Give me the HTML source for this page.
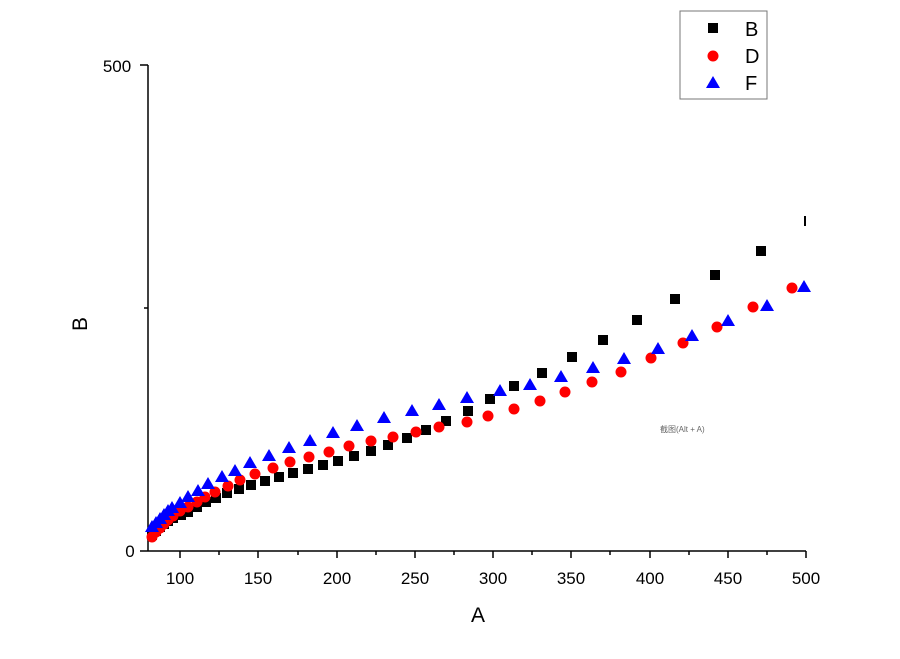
<!DOCTYPE html><html><head><meta charset="utf-8"><style>body{margin:0;background:#fff}</style></head><body>
<svg width="900" height="654" xmlns="http://www.w3.org/2000/svg" font-family="Liberation Sans, sans-serif">
<defs>
<rect id="s" x="-5" y="-5" width="10" height="10" fill="#000"/>
<circle id="c" r="5.5" fill="#f00"/>
<polygon id="t" points="0,-7 7,5 -7,5" fill="#00f"/>
</defs>
<g stroke="#000" stroke-width="1.5" fill="none">
<line x1="148" y1="551" x2="806" y2="551"/>
<line x1="148" y1="65" x2="148" y2="551"/>
<line x1="140" y1="65" x2="148" y2="65"/><line x1="144" y1="308" x2="148" y2="308"/><line x1="140" y1="551" x2="148" y2="551"/>
<line x1="180" y1="551" x2="180" y2="558"/><line x1="258" y1="551" x2="258" y2="558"/><line x1="337" y1="551" x2="337" y2="558"/><line x1="415" y1="551" x2="415" y2="558"/><line x1="493" y1="551" x2="493" y2="558"/><line x1="571" y1="551" x2="571" y2="558"/><line x1="650" y1="551" x2="650" y2="558"/><line x1="728" y1="551" x2="728" y2="558"/><line x1="806" y1="551" x2="806" y2="558"/>
<line x1="219" y1="551" x2="219" y2="555"/><line x1="298" y1="551" x2="298" y2="555"/><line x1="376" y1="551" x2="376" y2="555"/><line x1="454" y1="551" x2="454" y2="555"/><line x1="532" y1="551" x2="532" y2="555"/><line x1="610" y1="551" x2="610" y2="555"/><line x1="689" y1="551" x2="689" y2="555"/><line x1="767" y1="551" x2="767" y2="555"/>
</g>
<g font-size="17" text-anchor="middle" fill="#000">
<text x="180" y="584">100</text><text x="258" y="584">150</text><text x="337" y="584">200</text><text x="415" y="584">250</text><text x="493" y="584">300</text><text x="571" y="584">350</text><text x="650" y="584">400</text><text x="728" y="584">450</text><text x="806" y="584">500</text>
<text x="117" y="72">500</text><text x="130" y="557">0</text>
<text x="478" y="622" font-size="21">A</text>
<text transform="translate(87,324) rotate(-90)" font-size="21">B</text>
</g>
<text x="660" y="432" font-size="8" fill="#666">截图(Alt + A)</text>
<g>
<use href="#s" x="152" y="535"/><use href="#s" x="156" y="531"/><use href="#s" x="160" y="527"/><use href="#s" x="164" y="524"/><use href="#s" x="168" y="521"/><use href="#s" x="173" y="518"/><use href="#s" x="181" y="515"/><use href="#s" x="188" y="512"/><use href="#s" x="197" y="507"/><use href="#s" x="206" y="502"/><use href="#s" x="216" y="498"/><use href="#s" x="227" y="493"/><use href="#s" x="239" y="489"/><use href="#s" x="251" y="485"/><use href="#s" x="265" y="481"/><use href="#s" x="279" y="477"/><use href="#s" x="293" y="473"/><use href="#s" x="308" y="469"/><use href="#s" x="323" y="465"/><use href="#s" x="338" y="461"/><use href="#s" x="354" y="456"/><use href="#s" x="371" y="451"/><use href="#s" x="388" y="445"/><use href="#s" x="407" y="438"/><use href="#s" x="426" y="430"/><use href="#s" x="446" y="421"/><use href="#s" x="468" y="411"/><use href="#s" x="490" y="399"/><use href="#s" x="514" y="386"/><use href="#s" x="542" y="373"/><use href="#s" x="572" y="357"/><use href="#s" x="603" y="340"/><use href="#s" x="637" y="320"/><use href="#s" x="675" y="299"/><use href="#s" x="715" y="275"/><use href="#s" x="761" y="251"/>
<rect x="804" y="216" width="2" height="10" fill="#000"/>
<use href="#c" x="152" y="537"/><use href="#c" x="156" y="532"/><use href="#c" x="160" y="528"/><use href="#c" x="164" y="524"/><use href="#c" x="168" y="520"/><use href="#c" x="173" y="516"/><use href="#c" x="180" y="511"/><use href="#c" x="188" y="507"/><use href="#c" x="197" y="502"/><use href="#c" x="205" y="497"/><use href="#c" x="215" y="492"/><use href="#c" x="228" y="486"/><use href="#c" x="240" y="480"/><use href="#c" x="255" y="474"/><use href="#c" x="273" y="468"/><use href="#c" x="290" y="462"/><use href="#c" x="309" y="457"/><use href="#c" x="329" y="452"/><use href="#c" x="349" y="446"/><use href="#c" x="371" y="441"/><use href="#c" x="393" y="437"/><use href="#c" x="416" y="432"/><use href="#c" x="439" y="427"/><use href="#c" x="467" y="422"/><use href="#c" x="488" y="416"/><use href="#c" x="514" y="409"/><use href="#c" x="540" y="401"/><use href="#c" x="565" y="392"/><use href="#c" x="592" y="382"/><use href="#c" x="621" y="372"/><use href="#c" x="651" y="358"/><use href="#c" x="683" y="343"/><use href="#c" x="717" y="327"/><use href="#c" x="753" y="307"/><use href="#c" x="792" y="288"/>
<use href="#t" x="152" y="527"/><use href="#t" x="156" y="523"/><use href="#t" x="160" y="519"/><use href="#t" x="164" y="515"/><use href="#t" x="168" y="511"/><use href="#t" x="172" y="508"/><use href="#t" x="180" y="503"/><use href="#t" x="188" y="497"/><use href="#t" x="198" y="491"/><use href="#t" x="208" y="484"/><use href="#t" x="222" y="477"/><use href="#t" x="235" y="471"/><use href="#t" x="250" y="463"/><use href="#t" x="269" y="456"/><use href="#t" x="289" y="448"/><use href="#t" x="310" y="441"/><use href="#t" x="333" y="433"/><use href="#t" x="357" y="426"/><use href="#t" x="384" y="418"/><use href="#t" x="412" y="411"/><use href="#t" x="439" y="405"/><use href="#t" x="467" y="398"/><use href="#t" x="500" y="391"/><use href="#t" x="530" y="385"/><use href="#t" x="561" y="377"/><use href="#t" x="593" y="368"/><use href="#t" x="624" y="359"/><use href="#t" x="658" y="349"/><use href="#t" x="692" y="336"/><use href="#t" x="728" y="321"/><use href="#t" x="767" y="306"/><use href="#t" x="804" y="287"/>
</g>
<rect x="680" y="11" width="87" height="88" fill="#fff" stroke="#777" stroke-width="1"/>
<use href="#s" x="713" y="28"/><use href="#c" x="713" y="56"/><use href="#t" x="713" y="83"/>
<g font-size="20" fill="#000"><text x="745" y="36">B</text><text x="745" y="63">D</text><text x="745" y="90">F</text></g>
</svg></body></html>
